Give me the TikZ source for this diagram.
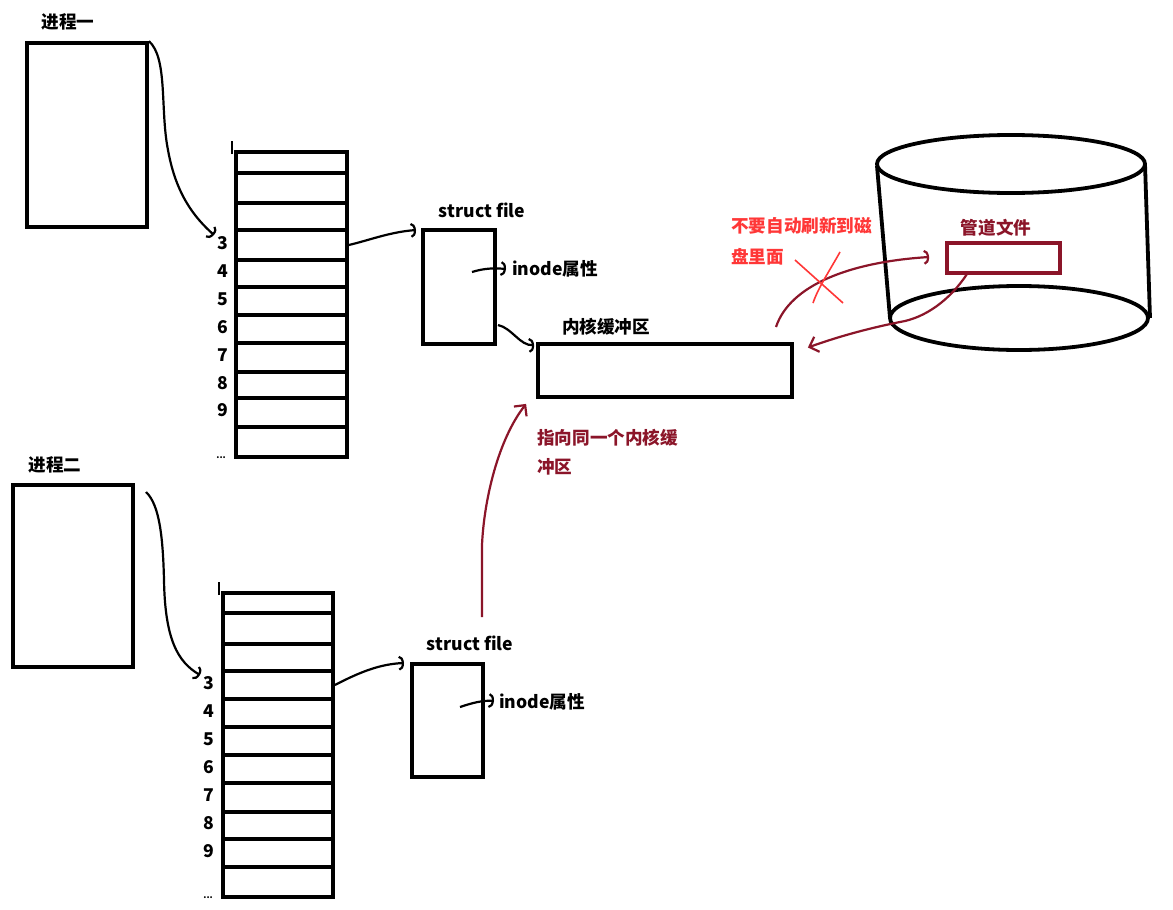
\documentclass[tikz,border=0pt]{standalone}
\usepackage{fontspec}
\setmainfont{Noto Sans CJK SC}
\usetikzlibrary{arrows.meta,calc}
\definecolor{dred}{RGB}{139,21,41}
\definecolor{bred}{RGB}{255,55,55}
\tikzset{
  box/.style={draw, line width=3.8pt, inner sep=0pt, fill=white},
  cell/.style={draw, line width=3.8pt, inner sep=0pt},
  lab/.style={font=\bfseries\fontsize{17.6}{21}\selectfont, inner sep=0pt},
  conn/.style={line width=2.2pt, -{Arc Barb[length=5pt,width=15pt]}},
  rconn/.style={dred, line width=2.2pt, -{Arc Barb[length=5pt,width=15pt]}},
  rchev/.style={dred, line width=2.2pt, -{Straight Barb[length=8pt,width=16pt]}},
  cyl/.style={line width=3.8pt},
}
\begin{document}
\begin{tikzpicture}[x=1pt,y=-1pt]
\useasboundingbox[fill=white] (0,0) rectangle (1173,910);

% ---- process one
\node[lab] (p1lab) at (68,22) {进程一};
\node[box, minimum width=120, minimum height=184] (p1) at (87,135) {};

% table one
\foreach \a/\b [count=\i from 0] in {152/173,173/203,203/230,230/260,260/287,287/315,315/343,343/372,372/398,398/427,427/457}
  \node[cell, minimum width=111, minimum height={\b-\a}] (t1r\i) at (291.5,{(\a+\b)/2}) {};
\foreach \k in {3,...,9}
  \node[lab, anchor=east] (t1n\k) at ($(t1r\k.west)+(-6,-2)$) {\k};
\node[lab, anchor=south east, font=\bfseries\small] (t1dots) at ($(t1r10.south west)+(-8,0)$) {...};
\draw[line width=1.5pt] (t1r0.north west) ++(-2,4) -- ++(0,-13);

% struct file one
\node[lab] (sf1lab) at (482,210) {struct file};
\node[box, minimum width=72, minimum height=114] (sf1) at (459,287) {};
\node[lab, anchor=west] (ino1) at (512,269) {inode属性};
\coordinate (sf1in) at (416,230);
\draw[conn] (t1r3.east) .. controls (370,240) and (390,232) .. (sf1in);
\coordinate (ino1s) at (472,272);
\draw[conn] (ino1s) .. controls (485,268) and (495,268) .. ($(ino1.west)+(-6,0)$);

% kernel buffer
\node[lab] (buflab) at (606,327) {内核缓冲区};
\node[box, minimum width=254, minimum height=53] (buf) at (665,370.5) {};
\coordinate (sf1out) at (498,325);
\draw[conn] (sf1out) .. controls (512,328) and (520,346) .. ($(buf.north west)+(-2,3)$);

% ---- process two
\node[lab] (p2lab) at (55,465) {进程二};
\node[box, minimum width=120, minimum height=182] (p2) at (73,576) {};

\foreach \a/\b [count=\i from 0] in {593/613,613/644,644/671,671/699,699/727,727/755,755/783,783/812,812/839,839/867,867/897}
  \node[cell, minimum width=110, minimum height={\b-\a}] (t2r\i) at (278,{(\a+\b)/2}) {};
\foreach \k in {3,...,9}
  \node[lab, anchor=east] (t2n\k) at ($(t2r\k.west)+(-7,-2)$) {\k};
\node[lab, anchor=south east, font=\bfseries\small] (t2dots) at ($(t2r10.south west)+(-8,0)$) {...};
\draw[line width=1.5pt] (t2r0.north west) ++(-2,4) -- ++(0,-13);

% struct file two
\node[lab] (sf2lab) at (470,643) {struct file};
\node[box, minimum width=71, minimum height=113] (sf2) at (447.5,720.5) {};
\node[lab, anchor=west] (ino2) at (499,702) {inode属性};
\coordinate (sf2in) at (404,663);
\draw[conn] (t2r3.east) .. controls (360,672) and (380,664) .. (sf2in);
\coordinate (ino2s) at (460,707);
\draw[conn] (ino2s) .. controls (472,703) and (483,700) .. ($(ino2.west)+(-5,-1)$);

% process arrows
\coordinate (p2s) at (146,492);
\draw[conn] (p1.north east) .. controls (168,58) and (160,110) .. (168,150) .. controls (176,195) and (195,218) .. ($(t1n3.west)+(-3,-8)$);
\draw[conn] (p2s) .. controls (160,505) and (163,540) .. (164,580) .. controls (165,640) and (178,662) .. ($(t2n3.west)+(-3,-8)$);

% shared buffer note
\coordinate (rs) at (482,617);
\draw[rchev] (rs) -- (482,545) .. controls (484,500) and (498,440) .. ($(buf.south west)+(-10,5)$);
\node[lab, dred, anchor=west] (note1) at (537,438) {指向同一个内核缓};
\node[lab, dred, anchor=west] (note2) at (537,467) {冲区};

% cylinder (disk)
\draw[cyl] (1011,164) ellipse [x radius=134, y radius=29];
\draw[cyl] (877,166) -- (890,318);
\draw[cyl] (1145,164) -- (1150,318);
\draw[cyl] (1019,318) ellipse [x radius=129, y radius=32];

% pipe file
\node[lab, dred] (pipelab) at (996,228) {管道文件};
\node[draw=dred, line width=3.8pt, inner sep=0pt, minimum width=113, minimum height=30] (pipe) at (1003.5,258) {};

% red arrows between buffer and pipe file
\coordinate (bufup) at (776,327);
\draw[rconn] (bufup) .. controls (790,285) and (850,262) .. ($(pipe.west)+(-16,-1)$);
\coordinate (pipedn) at (967,274);
\draw[rchev] (pipedn) .. controls (950,300) and (925,318) .. (900,322) .. controls (870,328) and (840,336) .. ($(buf.east)+(14,-23)$);

% red cross and note
\coordinate (x1a) at (795,260);
\coordinate (x1b) at (843,303);
\coordinate (x2a) at (840,252);
\coordinate (x2b) at (813,303);
\draw[bred, line width=1.6pt] (x1a) -- (x1b);
\draw[bred, line width=1.6pt] (x2a) .. controls (830,270) and (818,288) .. (x2b);
\node[lab, bred, anchor=west] (warn1) at (731,226) {不要自动刷新到磁};
\node[lab, bred, anchor=west] (warn2) at (731,257) {盘里面};
\end{tikzpicture}
\end{document}
